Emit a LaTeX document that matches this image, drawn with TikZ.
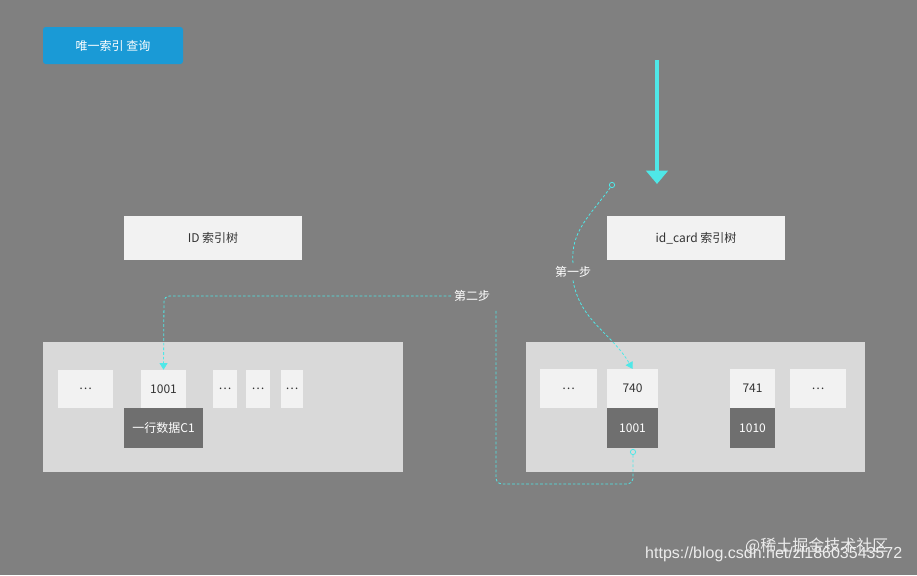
\documentclass[tikz,border=0pt]{standalone}
\usepackage{fontspec}
\setmainfont{Liberation Sans}
\newfontfamily\cjk{Noto Sans CJK SC}
\usetikzlibrary{arrows.meta}
\definecolor{bg}{HTML}{808080}
\definecolor{cell}{HTML}{F2F2F2}
\definecolor{cont}{HTML}{D9D9D9}
\definecolor{dark}{HTML}{6F6F6F}
\definecolor{cyanl}{HTML}{4FE8E8}
\definecolor{btn}{HTML}{1A9AD6}
\begin{document}
\begin{tikzpicture}[x=0.75pt,y=-0.75pt,
  box/.style={fill=cell,draw=none,font=\cjk\fontsize{9}{10}\selectfont,text=black!80},
  dbox/.style={fill=dark,draw=none,font=\cjk\fontsize{9}{10}\selectfont,text=white},
  lbl/.style={font=\cjk\fontsize{9}{10}\selectfont,text=white,fill=bg,inner sep=2pt},
  dl/.style={cyanl,dashed,dash pattern=on 2pt off 1.5pt,line width=0.6pt}]
\useasboundingbox (0,0) rectangle (917,575);
\fill[bg] (0,0) rectangle (917,575);
\node[fill=btn,rounded corners=2pt,text=white,font=\cjk\fontsize{9}{10}\selectfont,minimum width=105pt,minimum height=27.75pt] (title) at (113,45.5) {唯一索引 查询};
\coordinate (a1) at (657,60); \coordinate (a2) at (657,184);
\draw[cyanl,line width=3pt,-{Triangle[width=16pt,length=10pt]}] (a1) -- (a2);
\node[box,minimum width=133.5pt,minimum height=33pt] (idt) at (213,238) {ID 索引树};
\node[box,minimum width=133.5pt,minimum height=33pt] (cardt) at (696,238) {id\_card 索引树};
\node[fill=cont,minimum width=270pt,minimum height=97.5pt] (lc) at (223,407) {};
\node[fill=cont,minimum width=254pt,minimum height=97.5pt] (rc) at (695.5,407) {};
\node[box,minimum width=41pt,minimum height=28.5pt] (l1) at (85.5,389) {…};
\node[box,minimum width=34pt,minimum height=28.5pt] (l2) at (163.5,389) {1001};
\node[dbox,minimum width=59pt,minimum height=30pt] (l2d) at (163.5,428) {一行数据C1};
\node[box,minimum width=18pt,minimum height=28.5pt] (l3) at (225,389) {…};
\node[box,minimum width=18pt,minimum height=28.5pt] (l4) at (258,389) {…};
\node[box,minimum width=16.5pt,minimum height=28.5pt] (l5) at (292,389) {…};
\node[box,minimum width=43pt,minimum height=29pt] (r1) at (568.5,388.5) {…};
\node[box,minimum width=38pt,minimum height=29pt] (r2) at (632.5,388.5) {740};
\node[dbox,minimum width=38pt,minimum height=30pt] (r2d) at (632.5,428) {1001};
\node[box,minimum width=34pt,minimum height=29pt] (r3) at (752.5,388.5) {741};
\node[dbox,minimum width=34pt,minimum height=30pt] (r3d) at (752.5,428) {1010};
\node[box,minimum width=42pt,minimum height=29pt] (r4) at (818,388.5) {…};
% step 1
\node[draw=cyanl,circle,inner sep=0pt,minimum size=4pt,line width=0.6pt] (c1) at (612,185) {};
\node[lbl] (s1) at (573,272) {第一步};
\draw[dl] (c1) to[out=235,in=95] (s1.north);
\draw[dl,-{Triangle[width=6pt,length=5pt]}] (s1.south) to[out=-80,in=120] (r2.north);
% step 2
\node[draw=cyanl,circle,inner sep=0pt,minimum size=4pt,line width=0.6pt] (c2) at (633,452) {};
\node[lbl] (s2) at (472,296) {第二步};
\coordinate (p1) at (633,484); \coordinate (p2) at (496,484); \coordinate (p3) at (496,310);
\draw[dl,rounded corners=4pt] (c2) -- (p1) -- (p2) -- (p3);
\coordinate (q1) at (164,296);
\draw[dl,rounded corners=4pt,-{Triangle[width=6pt,length=5pt]}] (s2.west) -- (q1) -- (l2.north);
\node[text=white!85!bg,font=\cjk\fontsize{12}{12}\selectfont,anchor=east] (wm1) at (893,546) {@稀土掘金技术社区};
\node[text=white!85!bg,font=\fontsize{12}{12}\selectfont,anchor=east] (wm2) at (907,554) {https://blog.csdn.net/zl18603543572};
\end{tikzpicture}
\end{document}
